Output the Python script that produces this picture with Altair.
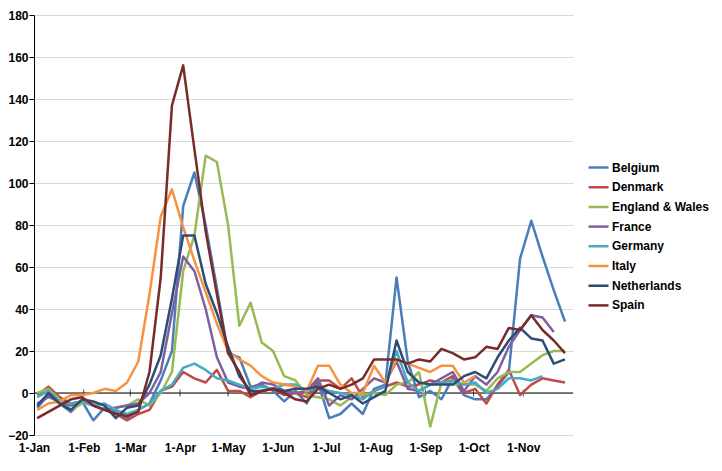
import altair as alt
import pandas as pd
from datetime import date, timedelta

# Weekly observations (week ending dates), 2020
first_week = date(2020, 1, 3)
n_weeks = 48
weeks = [(first_week + timedelta(days=7 * k)).isoformat() + "T00:00:00" for k in range(n_weeks)]

countries = ["Belgium", "Denmark", "England & Wales", "France", "Germany",
             "Italy", "Netherlands", "Spain"]
colors = ["#4A7EBB", "#BE4B48", "#98B954", "#7D60A0", "#46AAC5",
          "#F69240", "#2C4D75", "#772C2A"]

belgium = [-7, -1, -5, -9, -4, -13, -7, -9, -12, -8, -5, 6, 20, 89, 105, 80,
           50, 19, 17, 3, 4, 1, -4, 1, -5, 5, -12, -10, -5, -10, 2, 4,
           55, 15, -2, 1, -3, 7, -1, -3, -3, 3, 10, 64, 82, 65, 49, 34]
denmark = [-1, 3, -2, -5, -4, -6, -8, -10, -13, -10, -8, 1, 3, 10, 7, 5,
           11, 1, 1, -2, 1, 2, -1, 0, -2, 6, 6, 2, 7, -2, 1, 3,
           5, 3, 4, 6, 5, 8, 0, 2, -5, 4, 11, -1, 4, 7, 6, 5]
england_wales = [0, 2, -3, -8, -5, -5, -8, -7, -6, -3, -6, 0, 10, 58, 75, 113,
                 110, 80, 32, 43, 24, 20, 8, 6, -1, -2, -3, -6, -2, -1, 0, -1,
                 4, 5, 10, -16, 5, 4, 4, 4, 1, 7, 10, 10, 14, 18, 20, 20]
france = [-5, -2, -4, -6, -4, -6, -8, -7, -6, -5, 0, 10, 38, 65, 58, 40,
          17, 5, 3, 2, 5, 4, 1, 0, 1, 7, -6, -1, -3, 2, 7, 5,
          15, 2, 1, 4, 7, 10, 1, 8, 4, 10, 22, 30, 37, 36, 29]
germany = [-2, 1, -4, -5, -4, -6, -5, -8, -10, -8, -5, 1, 4, 12, 14, 11,
           7, 6, 4, 2, 3, 2, 4, 4, 1, 3, 1, 0, -1, -3, 1, 3,
           20, 5, 1, 4, 5, 6, 4, 5, 0, 2, 7, 7, 6, 8]
italy = [-8, -5, -4, -1, -1, 0, 2, 1, 5, 15, 47, 84, 97, 79, 63, 48,
         33, 20, 16, 13, 8, 5, 4, 3, 1, 13, 13, 4, 0, 0, 13, 5,
         16, 14, 12, 10, 13, 13, 5, 8]
netherlands = [-6, 0, -5, -8, -3, -4, -6, -12, -7, -6, 4, 18, 45, 75, 75, 52,
               38, 22, 8, 1, 1, 2, 1, 2, 2, 3, 0, -3, -1, -5, -2, 1,
               25, 10, 5, 4, 4, 4, 8, 10, 7, 17, 25, 31, 26, 25, 14, 16]
spain = [-12, -9, -6, -3, -2, -6, -8, -10, -11, -9, 10, 55, 137, 156, 116, 77,
         47, 19, 10, -1, 1, 2, 0, -3, -4, 2, 4, 2, 4, 7, 16, 16,
         16, 14, 16, 15, 21, 19, 16, 17, 22, 21, 31, 30, 37, 30, 25, 19]

series = [belgium, denmark, england_wales, france, germany, italy, netherlands, spain]

rows = []
for name, vals in zip(countries, series):
    for w, v in zip(weeks, vals):
        rows.append({"week": w, "country": name, "value": v})
df = pd.DataFrame(rows)

month_starts = [f"2020-{m:02d}-01T00:00:00" for m in range(2, 12)]
ticks_df = pd.DataFrame({"month": month_starts, "zero": [0] * len(month_starts)})
zero_df = pd.DataFrame({"zero": [0]})

FONT = "Liberation Sans"

x_scale = alt.Scale(domain=[alt.DateTime(year=2020, month=1, date=1),
                            alt.DateTime(year=2020, month=12, date=2)])
y_scale = alt.Scale(domain=[-20, 180], nice=False)

x_axis = alt.Axis(
    values=[alt.DateTime(year=2020, month=m, date=1) for m in range(1, 12)],
    format="%-d-%b", labelAngle=0, ticks=False, domain=False, grid=False,
    labelFont=FONT, labelFontSize=12, labelFontWeight="bold", labelColor="#000000",
    labelPadding=7, title=None, labelOverlap=False, labelFlush=False,
)
y_axis = alt.Axis(
    values=list(range(-20, 181, 20)), grid=True, gridColor="#D9D9D9", gridWidth=1,
    domainColor="#000000", tickColor="#000000", tickSize=5,
    labelFont=FONT, labelFontSize=12, labelFontWeight="bold", labelColor="#000000",
    labelPadding=1, title=None, labelFlush=False,
)

lines = alt.Chart(df).mark_line(strokeWidth=2.5, strokeJoin="round").encode(
    x=alt.X("week:T", scale=x_scale, axis=x_axis),
    y=alt.Y("value:Q", scale=y_scale, axis=y_axis),
    color=alt.Color(
        "country:N",
        scale=alt.Scale(domain=countries, range=colors),
        legend=alt.Legend(
            title=None, orient="none", legendX=553, legendY=144,
            symbolType="stroke", symbolSize=400, symbolStrokeWidth=2.5,
            labelFont=FONT, labelFontSize=12, labelFontWeight="bold",
            labelColor="#000000", clipHeight=17, rowPadding=2.7,
            labelOffset=2, padding=0,
        ),
    ),
)

zero_line = alt.Chart(zero_df).mark_rule(color="#000000", strokeWidth=1).encode(
    y=alt.Y("zero:Q", scale=y_scale)
)

month_ticks = alt.Chart(ticks_df).mark_tick(
    orient="vertical", size=7, thickness=1, color="#000000"
).encode(
    x=alt.X("month:T", scale=x_scale),
    y=alt.Y("zero:Q", scale=y_scale),
)

chart = alt.layer(zero_line, month_ticks, lines).properties(
    width=539, height=420,
    padding={"left": 26, "top": 7, "right": 141, "bottom": 20},
    autosize=alt.AutoSizeParams(type="none"),
).configure_view(strokeWidth=0)

chart.save("out.html", embed_options={"renderer": "svg", "actions": False})
